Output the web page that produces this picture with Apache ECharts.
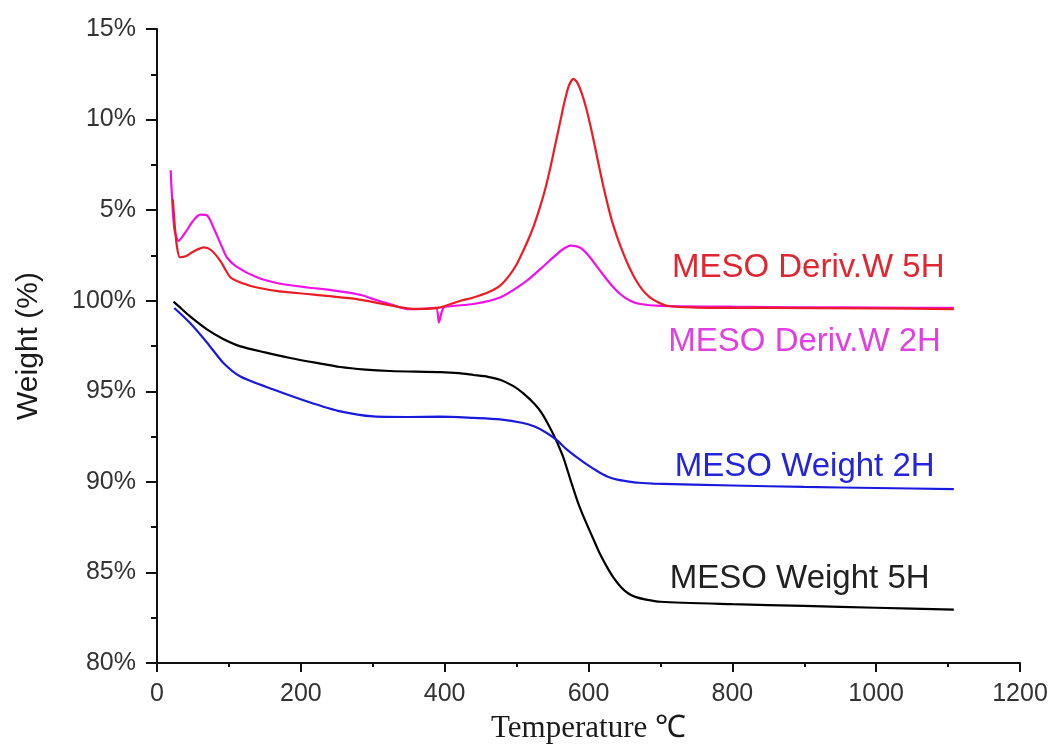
<!DOCTYPE html>
<html>
<head>
<meta charset="utf-8">
<title>MESO TGA</title>
<script src="https://cdn.jsdelivr.net/npm/echarts@6/dist/echarts.min.js"></script>
<style>
  html, body { margin: 0; padding: 0; background: #fff; }
  #chart { width: 1053px; height: 749px; }
</style>
</head>
<body>
<div id="chart"></div>
<script>
// Thermogravimetric curves of MESO samples (2H / 5H)
// Weight curves are read on the lower scale (80-100 %),
// derivative curves on the upper scale whose 0 % sits at the 100 % line.

const DERIV_ZERO = 100;

// MESO Weight 5H: temperature (°C) / weight (%)
const w5Temp = [23, 30, 46, 70, 92, 116, 150, 185, 220, 255, 290, 324, 360, 394, 420, 440, 460, 477, 495, 509, 525, 535, 545, 555, 565, 575, 585, 595, 605, 615, 625, 635, 645, 655, 665, 680, 700, 800, 900, 1000, 1108];
const w5Val  = [99.95, 99.7, 99.13, 98.4, 97.89, 97.48, 97.15, 96.84, 96.58, 96.34, 96.2, 96.12, 96.08, 96.06, 96.0, 95.9, 95.8, 95.64, 95.3, 94.9, 94.3, 93.8, 93.1, 92.3, 91.35, 90.1, 88.9, 87.9, 87.0, 86.1, 85.35, 84.7, 84.2, 83.85, 83.65, 83.5, 83.38, 83.25, 83.15, 83.05, 82.95];

// MESO Weight 2H
const w2Temp = [24, 46, 70, 92, 116, 162, 209, 255, 301, 348, 394, 440, 477, 509, 525, 542, 556, 570, 584, 598, 612, 626, 640, 654, 670, 690, 800, 900, 1000, 1108];
const w2Val  = [99.6, 98.77, 97.67, 96.58, 95.82, 95.1, 94.44, 93.89, 93.61, 93.58, 93.6, 93.53, 93.45, 93.25, 93.05, 92.7, 92.3, 91.78, 91.35, 90.95, 90.6, 90.3, 90.12, 90.03, 89.95, 89.9, 89.8, 89.72, 89.66, 89.6];

// MESO Deriv.W 5H: temperature (°C) / derivative (%)
const d5Temp = [22, 27, 32, 40, 50, 65, 75, 88, 102, 120, 139, 170, 209, 240, 278, 310, 348, 370, 394, 422, 440, 460, 477, 490, 500, 508, 516, 524, 532, 540, 547, 554, 561, 567, 573, 579, 585, 591, 597, 603, 609, 615, 621, 627, 633, 640, 648, 656, 665, 675, 685, 695, 709, 750, 850, 1000, 1108];
const d5Val  = [5.6, 3.2, 2.4, 2.45, 2.7, 2.94, 2.8, 2.2, 1.3, 0.95, 0.73, 0.52, 0.37, 0.25, 0.09, -0.15, -0.42, -0.45, -0.37, 0.0, 0.18, 0.45, 0.83, 1.4, 2.0, 2.65, 3.35, 4.15, 5.1, 6.2, 7.36, 8.65, 9.95, 11.05, 11.9, 12.25, 12.0, 11.4, 10.6, 9.6, 8.5, 7.35, 6.25, 5.25, 4.35, 3.5, 2.65, 1.9, 1.2, 0.6, 0.2, -0.05, -0.28, -0.38, -0.4, -0.42, -0.46];

// MESO Deriv.W 2H
const d2Temp = [19, 24, 30, 40, 50, 60, 70, 80, 90, 97, 110, 139, 170, 209, 240, 264, 285, 301, 325, 348, 370, 388, 392, 396, 400, 440, 477, 514, 540, 551, 563, 575, 588, 600, 616, 630, 644, 658, 672, 700, 800, 900, 1000, 1108];
const d2Val  = [7.2, 4.0, 3.3, 3.8, 4.4, 4.75, 4.7, 3.9, 3.0, 2.4, 1.9, 1.29, 0.95, 0.73, 0.6, 0.46, 0.3, 0.09, -0.2, -0.46, -0.45, -0.4, -1.2, -0.6, -0.35, -0.18, 0.18, 1.1, 2.0, 2.39, 2.8, 3.04, 2.94, 2.5, 1.66, 0.95, 0.37, 0.0, -0.18, -0.28, -0.33, -0.36, -0.38, -0.4];

const xTicks = { min: 0, max: 1200, step: 200 };
const yTicks = { min: 80, max: 115, step: 5 };

function pairs(t, v, offset) {
  return t.map((x, i) => [x, v[i] + (offset || 0)]);
}

function tag(text, color, coord) {
  return {
    symbol: 'circle',
    symbolSize: 0,
    silent: true,
    data: [{
      coord: coord,
      label: {
        show: true,
        position: 'right',
        distance: 0,
        formatter: text,
        color: color,
        fontFamily: '"Liberation Sans", Arial, sans-serif',
        fontSize: 33
      }
    }]
  };
}

const chart = echarts.init(document.getElementById('chart'), null, { renderer: 'canvas' });

const lineBase = { type: 'line', showSymbol: false, symbol: 'none', smooth: 0.25, animation: false };
const sans = '"Liberation Sans", Arial, sans-serif';

chart.setOption({
  backgroundColor: '#ffffff',
  animation: false,
  grid: { left: 157, right: 33, top: 29, bottom: 86, containLabel: false },
  xAxis: {
    type: 'value',
    min: xTicks.min, max: xTicks.max, interval: xTicks.step,
    name: 'Temperature ℃',
    nameLocation: 'middle',
    nameGap: 50,
    nameTextStyle: { fontFamily: '"Liberation Serif", "Times New Roman", serif', fontSize: 31, color: '#1a1a1a' },
    axisLine: { show: true, lineStyle: { color: '#111', width: 2 } },
    axisTick: { show: true, inside: false, length: 9, lineStyle: { color: '#111', width: 2 } },
    minorTick: { show: true, splitNumber: 2, length: 4, lineStyle: { color: '#111', width: 2 } },
    axisLabel: { margin: 19, fontSize: 25, color: '#333', fontFamily: sans, formatter: v => String(v) },
    splitLine: { show: false }
  },
  yAxis: {
    type: 'value',
    min: yTicks.min, max: yTicks.max, interval: yTicks.step,
    name: 'Weight (%)',
    nameLocation: 'middle',
    nameGap: 113,
    nameRotate: 90,
    nameTextStyle: { fontFamily: sans, fontSize: 30, color: '#1a1a1a', padding: [0, 0, 0, 0] },
    axisLine: { show: true, lineStyle: { color: '#111', width: 2 } },
    axisTick: { show: true, inside: false, length: 11, lineStyle: { color: '#111', width: 2 } },
    minorTick: { show: true, splitNumber: 2, length: 6, lineStyle: { color: '#111', width: 2 } },
    axisLabel: {
      margin: 21, fontSize: 25, color: '#333', fontFamily: sans,
      formatter: v => (v > DERIV_ZERO ? Math.round(v - DERIV_ZERO) : Math.round(v)) + '%'
    },
    splitLine: { show: false }
  },
  series: [
    Object.assign({}, lineBase, {
      name: 'MESO Weight 5H',
      data: pairs(w5Temp, w5Val),
      lineStyle: { color: '#000000', width: 2.2 },
      itemStyle: { color: '#000000' },
      markPoint: tag('MESO Weight 5H', '#222222', [713, 84.65])
    }),
    Object.assign({}, lineBase, {
      name: 'MESO Weight 2H',
      data: pairs(w2Temp, w2Val),
      lineStyle: { color: '#1a1adc', width: 2.2 },
      itemStyle: { color: '#1a1adc' },
      markPoint: tag('MESO Weight 2H', '#2424d8', [720, 90.84])
    }),
    Object.assign({}, lineBase, {
      name: 'MESO Deriv.W 2H',
      data: pairs(d2Temp, d2Val, DERIV_ZERO),
      lineStyle: { color: '#f010e8', width: 2.2 },
      itemStyle: { color: '#f010e8' },
      markPoint: tag('MESO Deriv.W 2H', '#e040e0', [711, 97.71])
    }),
    Object.assign({}, lineBase, {
      name: 'MESO Deriv.W 5H',
      data: pairs(d5Temp, d5Val, DERIV_ZERO),
      lineStyle: { color: '#ec1c24', width: 2.2 },
      itemStyle: { color: '#ec1c24' },
      markPoint: tag('MESO Deriv.W 5H', '#e02630', [716, 101.83])
    })
  ]
});
</script>
</body>
</html>
